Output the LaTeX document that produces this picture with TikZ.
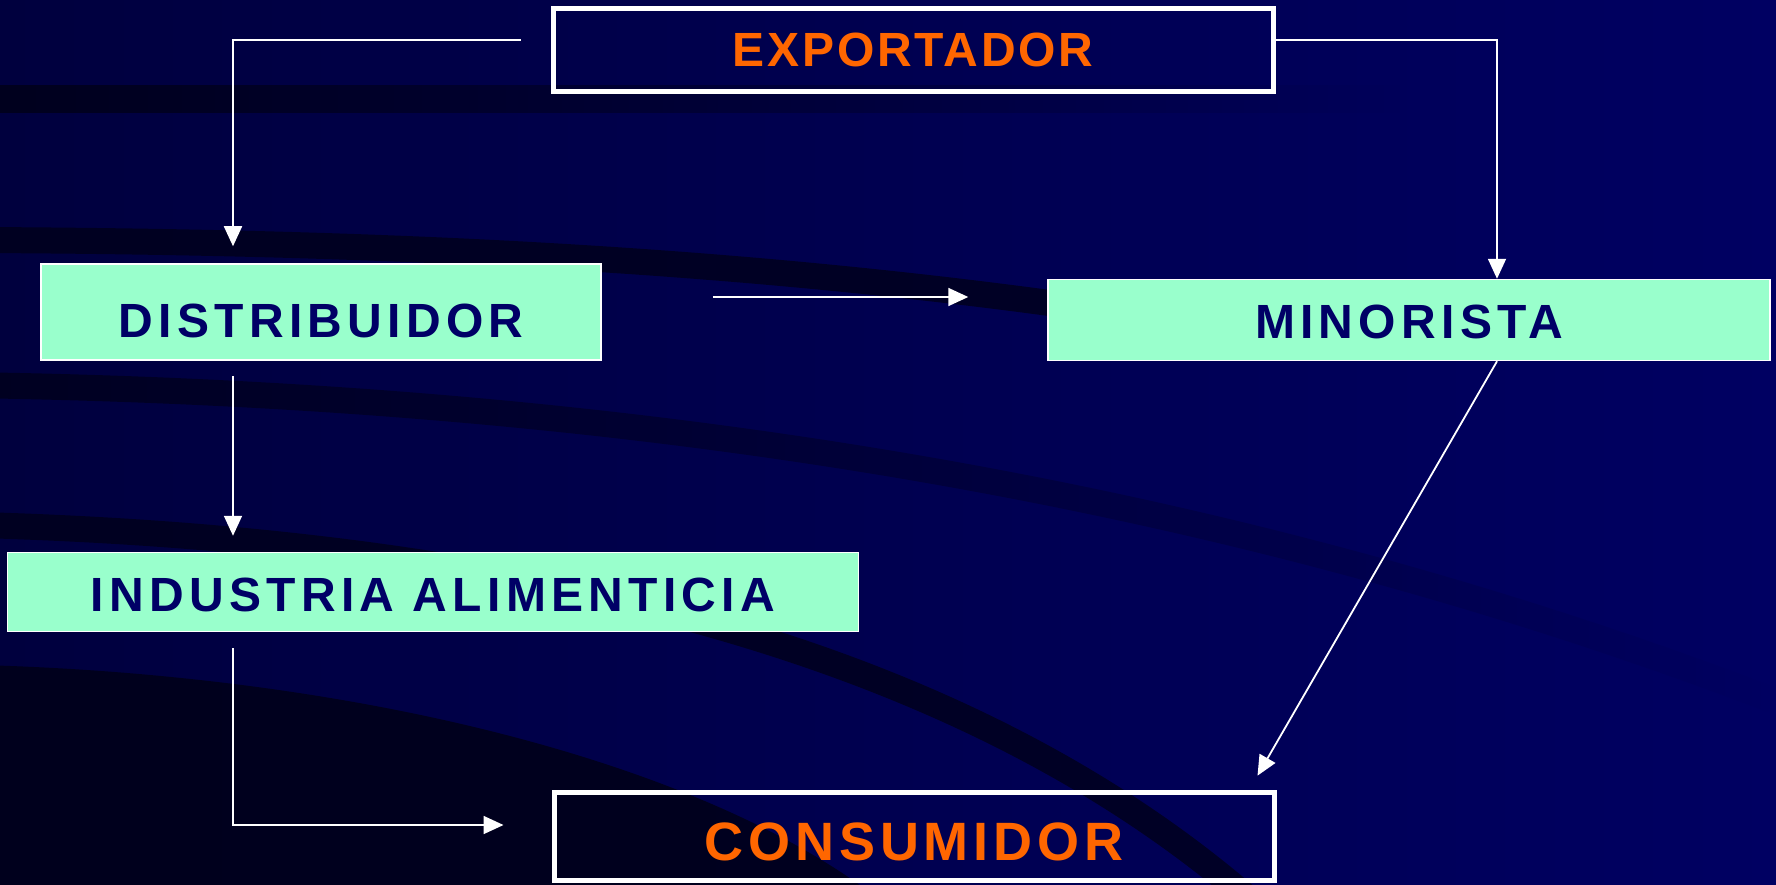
\documentclass[tikz,border=0pt]{standalone}
\usepackage{fontspec}
\setmainfont{Liberation Sans}
\newfontfamily\boxfont{Liberation Sans}[LetterSpace=11]
\newfontfamily\endfont{Liberation Sans}[LetterSpace=6]
\newfontfamily\consfont{Liberation Sans}[LetterSpace=9]
\usetikzlibrary{arrows.meta,calc,fadings}
\definecolor{bgnavy}{HTML}{000062}
\definecolor{bgleft}{HTML}{00003E}
\definecolor{bandink}{HTML}{00001A}
\definecolor{mint}{HTML}{99FFCC}
\definecolor{inknavy}{HTML}{000066}
\definecolor{flame}{HTML}{FF6600}
\tikzset{
  greenbox/.style={draw=white, line width=1.5pt, fill=mint, text=inknavy,
    inner sep=0pt, font=\boxfont\bfseries\fontsize{48}{56}\selectfont},
  endbox/.style={draw=white, line width=5pt, text=flame,
    inner sep=0pt, font=\endfont\bfseries\fontsize{48}{56}\selectfont},
  flow/.style={draw=white, line width=1.8pt, -{Triangle[length=20pt,width=18pt]}},
  band/.style={draw=bandink, line width=26pt, opacity=0.8}
}

\begin{document}
\begin{tikzpicture}[x=1pt,y=-1pt]
  \useasboundingbox (0,0) rectangle (1776,885);
  \fill[left color=bgleft, right color=bgnavy] (0,0) rectangle (1776,885);
  \begin{scope}
    \clip (0,0) rectangle (1776,885);
    \fill[bandink, opacity=0.9, path fading=east] (-20,85) rectangle (1400,113);
    \draw[band] (-20,240) .. controls (400,242) and (750,260) .. (1100,310);
    \draw[band, path fading=east] (-20,385) .. controls (600,395) and (1200,480) .. (1776,700);
    \draw[band] (-20,525) .. controls (500,540) and (950,640) .. (1250,900);
    \fill[bandink, opacity=0.9] (-20,665) .. controls (350,675) and (700,760) .. (880,900) -- (-20,900) -- cycle;
  \end{scope}

  \node[endbox, minimum width=720pt, minimum height=83pt] (expo) at (913,50) {EXPORTADOR};
  \node[greenbox, minimum width=560pt, minimum height=96pt, text height=52pt] (dist) at (321,312) {DISTRIBUIDOR};
  \node[greenbox, minimum width=722pt, minimum height=81pt, text height=38pt] (mino) at (1409,320) {MINORISTA};
  \node[greenbox, minimum width=851pt, minimum height=79pt, text height=40pt] (ind) at (433,592) {INDUSTRIA ALIMENTICIA};
  \node[endbox, minimum width=720pt, minimum height=88pt, text height=50pt,
    font=\consfont\bfseries\fontsize{54}{62}\selectfont] (cons) at (914,836) {CONSUMIDOR};

  \coordinate (trunk) at (233,0);
  \coordinate (rtrunk) at (1497,0);

  \draw[flow, shorten <=30pt, shorten >=17pt] ([yshift=10pt]expo.west) -| (trunk |- dist.north);
  \draw[flow] ([yshift=10pt]expo.east) -| (rtrunk |- mino.north);
  \draw[flow, shorten <=111pt, shorten >=79pt] ([yshift=15pt]dist.east) -- ([yshift=23pt]mino.west);
  \draw[flow, shorten <=15pt, shorten >=16pt] (trunk |- dist.south) -- (trunk |- ind.north);
  \draw[flow, shorten <=16pt, shorten >=48pt] (trunk |- ind.south) |- ([yshift=11pt]cons.west);
  \draw[flow, shorten >=16pt] (rtrunk |- mino.south) -- ([xshift=-27pt]cons.north east);
\end{tikzpicture}
\end{document}
